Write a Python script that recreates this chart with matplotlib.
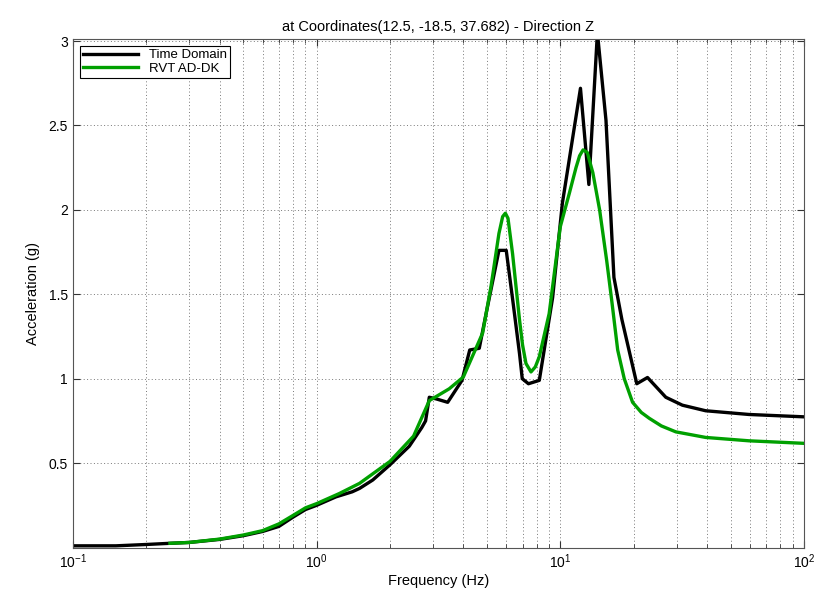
import numpy as np
import matplotlib.pyplot as plt
from matplotlib.ticker import LogLocator, NullFormatter, FixedLocator

plt.rcParams['font.family'] = ['Liberation Sans', 'DejaVu Sans']

# Time Domain response (frequency in Hz, acceleration in g)
td_freq = [0.1, 0.15, 0.2, 0.25, 0.3, 0.4, 0.5, 0.6, 0.7, 0.8, 0.9, 1.0,
           1.2, 1.4, 1.5, 1.7, 2.0, 2.4, 2.7, 2.8, 2.9, 3.1, 3.45, 3.95,
           4.25, 4.65, 4.96, 5.6, 6.0, 6.4, 6.8, 6.98, 7.4, 8.2, 9.3,
           10.2, 10.7, 12.1, 13.1, 14.2, 15.4, 16.6, 17.9, 20.6, 22.8,
           27.1, 31.7, 39.5, 59.5, 100]
td_acc = [0.01, 0.01, 0.018, 0.025, 0.03, 0.048, 0.07, 0.095, 0.125, 0.18,
          0.225, 0.25, 0.3, 0.33, 0.35, 0.40, 0.49, 0.6, 0.71, 0.75, 0.89,
          0.88, 0.86, 0.99, 1.17, 1.18, 1.385, 1.76, 1.76, 1.45, 1.15, 1.0,
          0.97, 0.99, 1.48, 2.04, 2.23, 2.72, 2.15, 3.05, 2.53, 1.6, 1.35,
          0.97, 1.007, 0.89, 0.843, 0.81, 0.788, 0.774]

# RVT AD-DK response
rvt_freq = [0.25, 0.3, 0.4, 0.5, 0.6, 0.7, 0.8, 0.9, 1.0, 1.24, 1.5, 2.0,
            2.5, 2.9, 3.5, 4.0, 4.8, 5.2, 5.6, 5.8, 5.95, 6.1, 6.37, 6.8,
            7.0, 7.23, 7.58, 7.9, 8.2, 9.0, 9.5, 10.0, 10.9, 11.6, 12.0,
            12.4, 12.9, 13.6, 14.5, 15.5, 16.3, 17.2, 18.3, 19.8, 21.5,
            23.2, 26.0, 29.8, 39.5, 59.5, 100]
rvt_acc = [0.025, 0.03, 0.05, 0.074, 0.10, 0.14, 0.19, 0.235, 0.26, 0.32,
           0.38, 0.51, 0.66, 0.87, 0.94, 1.01, 1.27, 1.55, 1.86, 1.96, 1.98,
           1.95, 1.74, 1.35, 1.2, 1.09, 1.04, 1.07, 1.13, 1.385, 1.65, 1.9,
           2.1, 2.25, 2.32, 2.355, 2.34, 2.22, 2.0, 1.7, 1.45, 1.17, 1.0,
           0.86, 0.8, 0.765, 0.72, 0.685, 0.652, 0.632, 0.617]

y_ticks = [0.5, 1, 1.5, 2, 2.5, 3]

fig = plt.figure(figsize=(8.32, 5.93), dpi=100)
ax = fig.add_axes([0.0877, 0.0767, 0.8786, 0.857])

ax.plot(td_freq, td_acc, color='black', lw=2.4, label='Time Domain')
ax.plot(rvt_freq, rvt_acc, color='#00A000', lw=2.4, label='RVT AD-DK')

ax.set_xscale('log')
ax.set_xlim(0.1, 100)
ax.set_ylim(0, 3.01)
ax.yaxis.set_major_locator(FixedLocator(y_ticks))
ax.set_yticklabels(['0.5', '1', '1.5', '2', '2.5', '3'])
ax.xaxis.set_major_locator(LogLocator(base=10))
ax.xaxis.set_minor_locator(LogLocator(base=10, subs=np.arange(2, 10)))
ax.xaxis.set_minor_formatter(NullFormatter())

ax.grid(True, which='major', axis='both', linestyle=(0, (1, 2.5)),
        color='#777777', lw=0.7)
ax.grid(True, which='minor', axis='x', linestyle=(0, (1, 2.5)),
        color='#777777', lw=0.7)
ax.tick_params(which='both', direction='in', top=True, right=True,
               labelsize=10, color='#333333')
ax.tick_params(which='major', length=5)
ax.tick_params(which='minor', length=3)
for s in ax.spines.values():
    s.set_color('#555555')

ax.set_xlabel('Frequency (Hz)', fontsize=10.5, labelpad=2)
ax.set_ylabel('Acceleration (g)', fontsize=10.5, labelpad=6)
ax.set_title('at Coordinates(12.5, -18.5, 37.682) - Direction Z', fontsize=10.5)

leg = ax.legend(loc='upper left', fontsize=9.5, fancybox=False, framealpha=1,
                edgecolor='black', borderaxespad=0.5, handlelength=4.2,
                borderpad=0.25, labelspacing=0.1)
leg.get_frame().set_linewidth(0.8)

fig.savefig('out.png', dpi=100)
